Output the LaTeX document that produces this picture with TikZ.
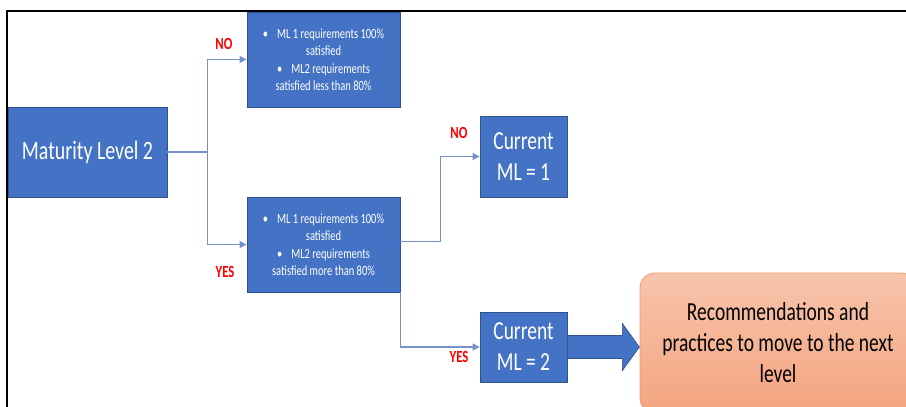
\documentclass[tikz,border=0pt]{standalone}
\usepackage{fontspec}
\setmainfont{Carlito}[FakeStretch=0.75]
\usetikzlibrary{arrows.meta}
\definecolor{boxblue}{HTML}{4472C4}
\definecolor{boxedge}{HTML}{2F528F}
\definecolor{wire}{HTML}{7890C8}
\definecolor{peachtop}{HTML}{F7C4AC}
\definecolor{peachbot}{HTML}{F4A47F}
\definecolor{peachedge}{HTML}{EE9A6E}
\definecolor{labelred}{HTML}{FF0000}
\begin{document}
\begin{tikzpicture}[x=1pt,y=-1pt,
  bluebox/.style={draw=boxedge, line width=0.8pt, fill=boxblue, text=white,
    align=center, inner sep=0pt},
  bigtext/.style={font=\fontsize{26}{31}\selectfont},
  smalltext/.style={font=\fontsize{14}{17.5}\selectfont},
  wirearrow/.style={draw=wire, line width=1.3pt, -{Triangle[length=7pt,width=7pt]}},
  wireline/.style={draw=wire, line width=1.3pt},
  verdict/.style={text=labelred, font=\fontsize{17}{20}\selectfont\bfseries, inner sep=0pt},
  blockarr/.style={fill=boxblue, draw=boxedge, line width=0.6pt, line join=miter},
  goalbox/.style={draw=peachedge, line width=0.8pt, top color=peachtop, bottom color=peachbot,
    rounded corners=15pt, align=center, inner sep=0pt, text=black,
    font=\fontsize{26}{31}\selectfont}]
\useasboundingbox (0,0) rectangle (906,407);
\clip (0,0) rectangle (906,407);

% decision boxes
\node[bluebox, minimum width=159pt, minimum height=90pt,
      font=\fontsize{26.5}{32}\selectfont] (ml2) at (87.5,152) {Maturity Level 2};
\node[bluebox, smalltext, minimum width=153pt, minimum height=95pt] (low) at (323.5,59.5)
  {\textbullet\hspace{9pt}ML 1 requirements 100\%\\ satisfied\\
   \textbullet\hspace{9pt}ML2 requirements\\ satisfied less than 80\%};
\node[bluebox, smalltext, minimum width=153pt, minimum height=95pt] (high) at (323.5,244.5)
  {\textbullet\hspace{9pt}ML 1 requirements 100\%\\ satisfied\\
   \textbullet\hspace{9pt}ML2 requirements\\ satisfied more than 80\%};
\node[bluebox, bigtext, minimum width=87pt, minimum height=81pt] (cur1) at (523.5,156.5)
  {Current\\ ML = 1};
\node[bluebox, bigtext, minimum width=87pt, minimum height=70pt] (cur2) at (523.5,347)
  {Current\\ ML = 2};
\node[goalbox, minimum width=276pt, minimum height=140pt] (next) at (778,343)
  {Recommendations and\\ practices to move to the next\\ level};

% connectors
\draw[wireline] (ml2.east) -- ++(40,0) coordinate (fork);
\draw[wirearrow] (fork) |- (low.west);
\draw[wirearrow] (fork) |- (high.west);
\draw[wirearrow] ([yshift=3pt]high.east) -- ++(40,0) |- (cur1.west);
\draw[wirearrow] (high.south east) |- (cur2.west);

% block arrow towards the recommendations
\draw[blockarr] (cur2.east) ++(0,-11.5) -- ++(55,0) -- ++(0,-12) -- ++(17,23.5)
  -- ++(-17,23.5) -- ++(0,-12) -- ++(-55,0) -- cycle;

% branch labels
\node[verdict] (no1) at (224,44) {NO};
\node[verdict] (yes1) at (225,272) {YES};
\node[verdict] (no2) at (459,133) {NO};
\node[verdict] (yes2) at (459,357) {YES};

% frame
\draw[line width=2.2pt] (7,410) -- (7,11) -- (910,11);
\end{tikzpicture}
\end{document}
